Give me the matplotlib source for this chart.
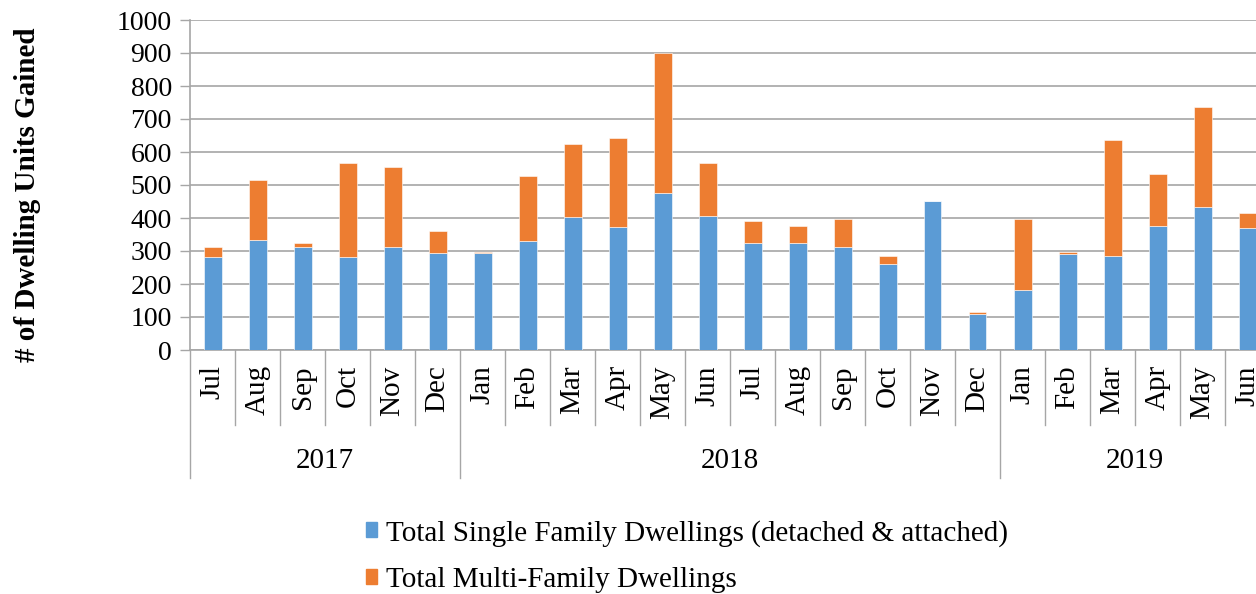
import matplotlib.pyplot as plt
from matplotlib.patches import Patch
from matplotlib.transforms import blended_transform_factory

plt.rcParams['font.family'] = ['Liberation Serif', 'DejaVu Serif']

# data
months = ["Jul", "Aug", "Sep", "Oct", "Nov", "Dec",
          "Jan", "Feb", "Mar", "Apr", "May", "Jun",
          "Jul", "Aug", "Sep", "Oct", "Nov", "Dec",
          "Jan", "Feb", "Mar", "Apr", "May", "Jun"]
years = ["2017", "2018", "2019"]
year_counts = [6, 12, 6]
single_family = [281, 333, 311, 281, 311, 293,
                 295, 329, 402, 372, 477, 407,
                 325, 325, 312, 261, 451, 108,
                 182, 291, 286, 377, 433, 369]
total_units = [311, 515, 325, 568, 556, 360,
               298, 528, 624, 641, 901, 568,
               390, 377, 398, 286, 451, 114,
               398, 296, 636, 533, 736, 416]
multi_family = [t - s for t, s in zip(total_units, single_family)]

blue = "#5B9BD5"
orange = "#ED7D31"
grey = "#a6a6a6"
fs = 21

fig = plt.figure(figsize=(12.56, 5.94), dpi=100)
# plot area runs past the right edge, as in the cropped original
ax = fig.add_axes([190 / 1256, 244 / 594, 1080 / 1256, 330 / 594])

x = list(range(len(months)))
ax.bar(x, single_family, width=0.4, color=blue, edgecolor="white", linewidth=0.4, zorder=3)
ax.bar(x, multi_family, width=0.4, bottom=single_family, color=orange,
       edgecolor="white", linewidth=0.4, zorder=3)

ax.set_xlim(-0.5, len(months) - 0.5)
ax.set_ylim(0, 1000)
ax.set_yticks(range(0, 1001, 100))
ax.yaxis.grid(True, color=grey, linewidth=1.2, zorder=0)
ax.tick_params(axis="y", labelsize=20, length=7, width=1, color=grey, pad=6)

ax.set_xticks(x)
ax.set_xticklabels(months, rotation=90, fontsize=fs, va="top")
ax.tick_params(axis="x", length=0, pad=11)

for s in ["top", "right"]:
    ax.spines[s].set_visible(False)
for s in ["left", "bottom"]:
    ax.spines[s].set_color(grey)
    ax.spines[s].set_linewidth(1.2)

# multi-level category separators below the axis
trans = blended_transform_factory(ax.transData, ax.transAxes)
year_edges = [-0.5]
for c in year_counts:
    year_edges.append(year_edges[-1] + c)
for i in range(len(months) + 1):
    pos = i - 0.5
    low = -0.388 if pos in year_edges else -0.227
    ax.plot([pos, pos], [0, low], color=grey, lw=1, transform=trans, clip_on=False)

for yr, a, b in zip(years, year_edges[:-1], year_edges[1:]):
    ax.text((a + b) / 2, -0.335, yr, transform=trans, ha="center", va="center", fontsize=fs)

fig.text(28 / 1256, 1 - 195 / 594, "# of Dwelling Units Gained", rotation=90,
         ha="center", va="center", fontsize=fs, fontweight="bold")

handles = [Patch(color=blue), Patch(color=orange)]
labels = ["Total Single Family Dwellings (detached & attached)", "Total Multi-Family Dwellings"]
fig.legend(handles, labels, loc="upper left", bbox_to_anchor=(354 / 1256, 1 - 508 / 594),
           frameon=False, fontsize=fs, handlelength=0.4, handleheight=0.4,
           handletextpad=0.3, labelspacing=0.7, borderaxespad=0)

fig.savefig("out.png", dpi=100)
